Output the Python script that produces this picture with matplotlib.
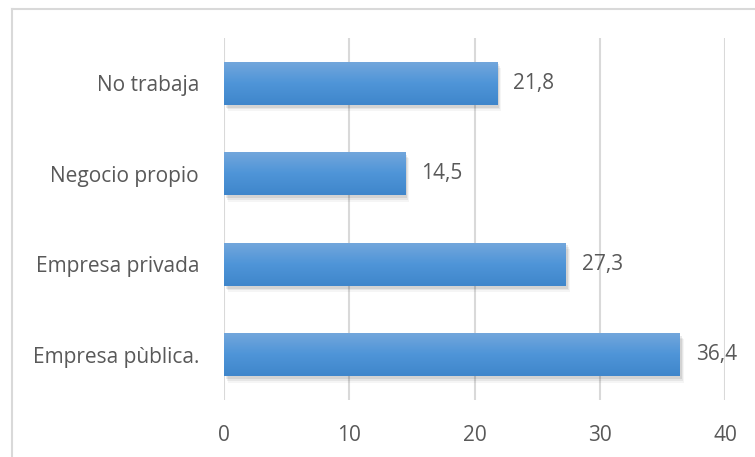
import matplotlib.pyplot as plt
import numpy as np
from matplotlib.colors import LinearSegmentedColormap
from matplotlib.lines import Line2D

# Data
categories = ['Empresa pùblica.', 'Empresa privada', 'Negocio propio', 'No trabaja']
values = [36.4, 27.3, 14.5, 21.8]
labels = ['36,4', '27,3', '14,5', '21,8']
x_ticks = [0, 10, 20, 30, 40]

plt.rcParams['font.family'] = ['Open Sans', 'DejaVu Sans']

fig = plt.figure(figsize=(7.55, 4.57), dpi=100)
W, H = 755, 457
axe = fig.add_axes([224 / W, 1 - 400 / H, (725 - 224) / W, (400 - 38) / H])

# chart border (only left and top edge visible)
fig.add_artist(Line2D([12 / W, 12 / W], [0, 1 - 9 / H], transform=fig.transFigure, color='#d9d9d9', lw=1.5))
fig.add_artist(Line2D([12 / W, 1], [1 - 9 / H, 1 - 9 / H], transform=fig.transFigure, color='#d9d9d9', lw=1.5))

y = np.arange(len(categories))
bar_h = 0.48
cmap = LinearSegmentedColormap.from_list('blu', ['#3f86cb', '#4f95d8', '#74a7dc'])
grad = np.linspace(0, 1, 256).reshape(-1, 1)
txt_color = '#595959'

for yi, v, lab in zip(y, values, labels):
    # soft shadow
    for k, a in enumerate([0.04, 0.06, 0.08]):
        off = 0.07 - k * 0.02
        axe.add_patch(plt.Rectangle((0.3 - k * 0.08, yi - bar_h / 2 - off), v, bar_h,
                                    facecolor='black', alpha=a, lw=0, zorder=2))
    bar = axe.barh(yi, v, height=bar_h, color='#4a90d6', zorder=3)[0]
    im = axe.imshow(grad, cmap=cmap, aspect='auto', origin='lower',
                    extent=(0, v, yi - bar_h / 2, yi + bar_h / 2), zorder=4)
    im.set_clip_path(bar)
    axe.text(v + 1.25, yi, lab, va='center', ha='left',
             fontsize=15, color=txt_color, zorder=5)

axe.set_xlim(0, 40)
axe.set_ylim(-0.5, len(categories) - 0.5)
axe.set_xticks(x_ticks)
axe.set_yticks(y)
axe.set_yticklabels(categories)
axe.tick_params(axis='both', length=0, labelsize=15, labelcolor=txt_color)
axe.tick_params(axis='x', pad=18)
axe.tick_params(axis='y', pad=18)
axe.grid(axis='x', color='#d9d9d9', lw=1.5, zorder=0)
axe.set_axisbelow(True)
for s in axe.spines.values():
    s.set_visible(False)

fig.savefig('out.png', dpi=100)
